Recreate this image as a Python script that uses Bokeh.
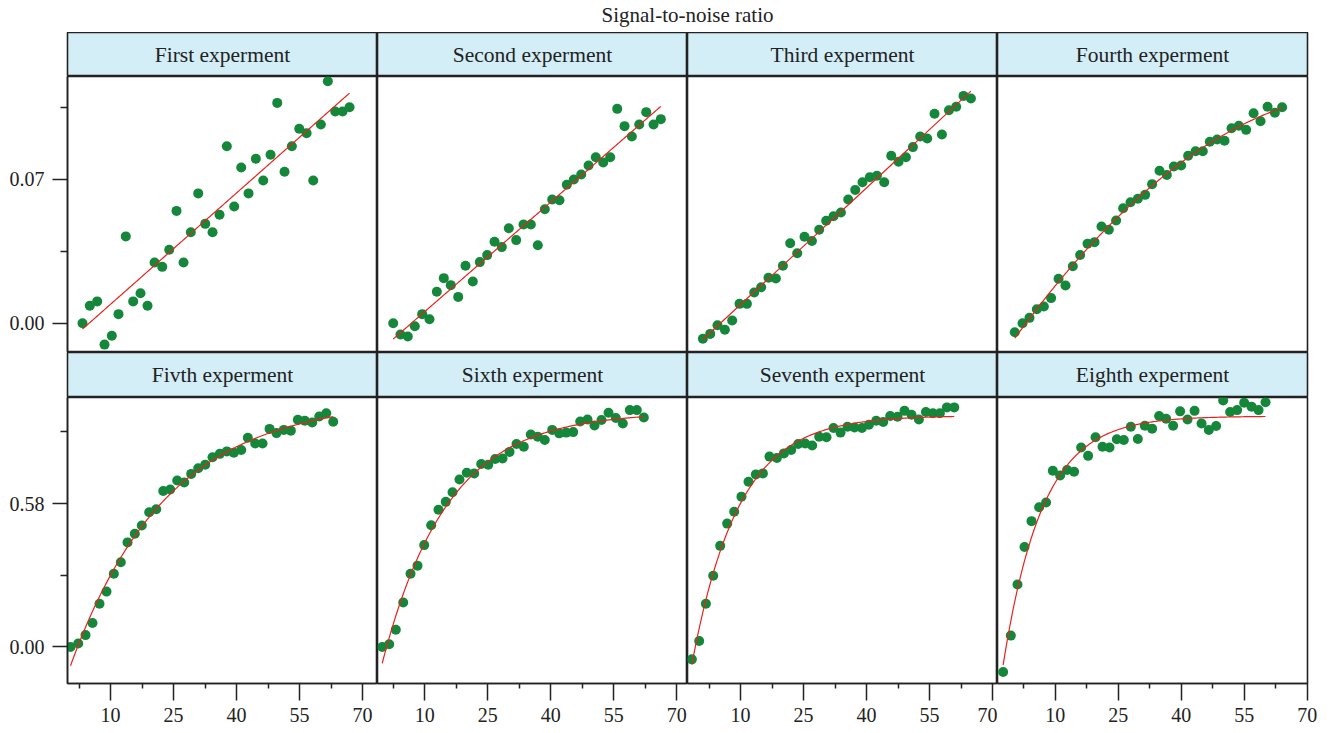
import numpy as np
from bokeh.plotting import figure
from bokeh.layouts import gridplot, column
from bokeh.models import FixedTicker, Range1d, Label, PrintfTickFormatter
from bokeh.embed import file_html
from bokeh.resources import INLINE

main_title = "Signal-to-noise ratio"
panel_titles = ["First experment", "Second experment", "Third experment", "Fourth experment",
                "Fivth experment", "Sixth experment", "Seventh experment", "Eighth experment"]

x_ticks = [10, 25, 40, 55, 70]
x_minor = [2.5, 17.5, 32.5, 47.5, 62.5]
y_ticks_top = [0.0, 0.07]
y_minor_top = [0.035, 0.105]
y_ticks_bottom = [0.0, 0.58]
y_minor_bottom = [0.29, 0.87]

x1 = [3.33, 5.07, 6.83, 8.57, 10.31, 11.90, 13.64, 15.40, 17.14, 18.81, 20.48, 22.31, 23.98, 25.71,
      27.38, 29.12, 30.88, 32.55, 34.29, 35.95, 37.69, 39.45, 41.12, 42.86, 44.60, 46.36, 48.10,
      49.69, 51.43, 53.17, 54.93, 56.67, 58.26, 60.07, 61.74, 63.50, 65.24, 66.90]
y1 = [0.0000, 0.0085, 0.0106, -0.0104, -0.0061, 0.0044, 0.0422, 0.0106, 0.0146, 0.0085, 0.0295,
      0.0274, 0.0357, 0.0546, 0.0295, 0.0442, 0.0631, 0.0483, 0.0442, 0.0527, 0.0860, 0.0567,
      0.0757, 0.0631, 0.0799, 0.0694, 0.0819, 0.1071, 0.0736, 0.0860, 0.0945, 0.0924, 0.0694,
      0.0966, 0.1176, 0.1029, 0.1029, 0.1050]

x2 = [2.48, 4.21, 5.95, 7.62, 9.38, 11.12, 12.86, 14.52, 16.19, 17.95, 19.69, 21.43, 23.10, 24.86,
      26.60, 28.33, 30.00, 31.76, 33.50, 35.24, 36.90, 38.57, 40.33, 42.07, 43.81, 45.48, 47.24,
      48.98, 50.71, 52.48, 54.14, 55.81, 57.55, 59.29, 61.05, 62.71, 64.45, 66.19]
y2 = [0.0000, -0.0055, -0.0065, -0.0015, 0.0044, 0.0019, 0.0153, 0.0219, 0.0185, 0.0128, 0.0279,
      0.0203, 0.0297, 0.0331, 0.0396, 0.0370, 0.0462, 0.0404, 0.0480, 0.0480, 0.0379, 0.0554,
      0.0601, 0.0598, 0.0673, 0.0699, 0.0723, 0.0767, 0.0807, 0.0781, 0.0807, 0.1042, 0.0958,
      0.0908, 0.0966, 0.1026, 0.0966, 0.0992]

x3 = [1.02, 2.76, 4.50, 6.26, 8.00, 9.74, 11.50, 13.24, 14.90, 16.64, 18.40, 20.07, 21.81, 23.48,
      25.21, 26.98, 28.71, 30.38, 32.12, 33.88, 35.62, 37.29, 39.02, 40.79, 42.45, 44.19, 45.86,
      47.60, 49.36, 51.02, 52.76, 54.43, 56.17, 57.93, 59.60, 61.33, 63.07, 64.83]
y3 = [-0.0076, -0.0052, -0.0010, -0.0032, 0.0013, 0.0094, 0.0094, 0.0149, 0.0175, 0.0221, 0.0217,
      0.0279, 0.0389, 0.0340, 0.0420, 0.0400, 0.0454, 0.0498, 0.0520, 0.0538, 0.0601, 0.0648,
      0.0685, 0.0710, 0.0717, 0.0685, 0.0814, 0.0785, 0.0807, 0.0856, 0.0908, 0.0898, 0.1018,
      0.0917, 0.1035, 0.1052, 0.1105, 0.1092]

x4 = [0.36, 2.20, 3.86, 5.60, 7.27, 9.00, 10.77, 12.43, 14.17, 15.91, 17.67, 19.34, 21.00, 22.74,
      24.48, 26.15, 27.91, 29.65, 31.39, 33.05, 34.81, 36.55, 38.22, 39.96, 41.62, 43.39, 45.12,
      46.79, 48.53, 50.29, 51.96, 53.70, 55.43, 57.20, 58.86, 60.53, 62.27, 64.00]
y4 = [-0.0044, 0.0000, 0.0026, 0.0068, 0.0081, 0.0122, 0.0216, 0.0183, 0.0277, 0.0332, 0.0386,
      0.0394, 0.0470, 0.0454, 0.0499, 0.0559, 0.0588, 0.0605, 0.0624, 0.0676, 0.0741, 0.0721,
      0.0762, 0.0767, 0.0814, 0.0836, 0.0836, 0.0882, 0.0893, 0.0887, 0.0948, 0.0960, 0.0940,
      0.1021, 0.0982, 0.1052, 0.1023, 0.1050]

x5 = [0.48, 2.31, 4.05, 5.71, 7.38, 9.05, 10.79, 12.45, 14.05, 15.79, 17.45, 19.21, 20.88, 22.55,
      24.21, 25.88, 27.55, 29.21, 30.88, 32.55, 34.29, 36.02, 37.69, 39.36, 41.12, 42.69, 44.45,
      46.19, 47.86, 49.52, 51.26, 52.93, 54.60, 56.26, 58.02, 59.69, 61.36, 63.02]
y5 = [0.000, 0.014, 0.048, 0.097, 0.175, 0.224, 0.296, 0.343, 0.423, 0.458, 0.491, 0.545, 0.557,
      0.631, 0.637, 0.673, 0.665, 0.700, 0.723, 0.737, 0.767, 0.781, 0.791, 0.786, 0.797, 0.846,
      0.823, 0.823, 0.882, 0.865, 0.878, 0.875, 0.919, 0.915, 0.908, 0.932, 0.945, 0.911]

x6 = [-0.14, 1.52, 3.10, 4.86, 6.60, 8.26, 9.86, 11.52, 13.26, 15.00, 16.60, 18.26, 20.00, 21.76,
      23.43, 25.10, 26.76, 28.50, 30.17, 31.83, 33.57, 35.24, 36.90, 38.57, 40.33, 42.00, 43.67,
      45.33, 47.00, 48.74, 50.40, 52.07, 53.74, 55.48, 57.14, 58.81, 60.48, 62.14]
y6 = [0.000, 0.011, 0.070, 0.180, 0.296, 0.329, 0.412, 0.492, 0.555, 0.587, 0.626, 0.677, 0.705,
      0.702, 0.740, 0.737, 0.760, 0.762, 0.789, 0.821, 0.810, 0.859, 0.850, 0.837, 0.878, 0.864,
      0.867, 0.869, 0.912, 0.920, 0.896, 0.918, 0.947, 0.926, 0.904, 0.958, 0.958, 0.928]

x7 = [-1.60, 0.14, 1.74, 3.48, 5.14, 6.81, 8.48, 10.21, 11.88, 13.64, 15.31, 16.88, 18.64, 20.31,
      22.05, 23.71, 25.38, 27.05, 28.71, 30.45, 32.12, 33.79, 35.45, 37.12, 38.88, 40.55, 42.29,
      43.95, 45.62, 47.36, 49.02, 50.69, 52.45, 54.12, 55.79, 57.45, 59.12, 60.86]
y7 = [-0.050, 0.024, 0.175, 0.288, 0.409, 0.499, 0.547, 0.608, 0.668, 0.698, 0.702, 0.770, 0.764,
      0.783, 0.797, 0.821, 0.823, 0.815, 0.850, 0.848, 0.886, 0.867, 0.891, 0.888, 0.886, 0.899,
      0.915, 0.910, 0.934, 0.931, 0.955, 0.939, 0.920, 0.950, 0.945, 0.945, 0.969, 0.969]

x8 = [-2.42, -0.59, 1.00, 2.67, 4.34, 6.15, 7.81, 9.41, 11.15, 12.81, 14.48, 16.15, 17.81, 19.58,
      21.24, 22.91, 24.65, 26.31, 27.98, 29.65, 31.31, 33.05, 34.72, 36.39, 38.05, 39.72, 41.48,
      43.15, 44.81, 46.55, 48.29, 49.96, 51.62, 53.29, 54.96, 56.72, 58.39, 60.05]
y8 = [-0.101, 0.046, 0.253, 0.404, 0.509, 0.565, 0.584, 0.713, 0.694, 0.716, 0.709, 0.807, 0.773,
      0.848, 0.810, 0.807, 0.840, 0.837, 0.891, 0.841, 0.895, 0.883, 0.934, 0.923, 0.895, 0.953,
      0.920, 0.955, 0.904, 0.878, 0.894, 0.997, 0.950, 0.958, 0.988, 0.972, 0.958, 0.990]

fit_kinds = ["linear", "linear", "linear", "quadratic", "exp", "exp", "exp", "exp"]
xs_all = [x1, x2, x3, x4, x5, x6, x7, x8]
ys_all = [y1, y2, y3, y4, y5, y6, y7, y8]

# ---- style / layout ----
FONT = "Liberation Serif"
GREEN = "#15873a"
RED = "#e8231d"
DARK = "#222222"
STRIP = "#d4eef7"
col_x_start = [-0.24, -1.26, -2.64, -3.76]
x_span = 73.8
top_y = (-0.01424, 0.11993)
bot_y = (-0.1477, 1.009)
FRAME_W = 310
LEFT = 67
RIGHT = 14
BOTTOM = 49


def fit_curve(x, y, kind):
    x = np.asarray(x, float)
    y = np.asarray(y, float)
    xx = np.linspace(x.min(), x.max(), 200)
    if kind == "linear":
        c = np.polyfit(x, y, 1)
        return xx, np.polyval(c, xx)
    if kind == "quadratic":
        c = np.polyfit(x, y, 2)
        return xx, np.polyval(c, xx)
    best = None
    for k in np.linspace(0.01, 0.4, 781):
        A = np.column_stack([np.ones_like(x), np.exp(-k * x)])
        coef, *_ = np.linalg.lstsq(A, y, rcond=None)
        err = np.sum((A @ coef - y) ** 2)
        if best is None or err < best[0]:
            best = (err, k, coef)
    _, k, coef = best
    return xx, coef[0] + coef[1] * np.exp(-k * xx)


def make_strip(text, col, height):
    w = FRAME_W + (LEFT if col == 0 else 0) + (RIGHT if col == 3 else 0)
    s = figure(width=w, height=height, x_range=Range1d(0, 1), y_range=Range1d(0, 1),
               toolbar_location=None, output_backend="svg",
               x_axis_location=None, y_axis_location=None,
               min_border_left=LEFT if col == 0 else 0, min_border_right=RIGHT if col == 3 else 0,
               min_border_top=0, min_border_bottom=0)
    s.grid.visible = False
    s.background_fill_color = STRIP
    s.border_fill_color = "white"
    s.outline_line_color = DARK
    s.outline_line_width = 1.6
    s.add_layout(Label(x=0.5, y=0.5, text=text, text_align="center", text_baseline="middle",
                       text_font=FONT, text_font_size="21.5px", text_color=DARK))
    return s


def style_axis(ax):
    ax.axis_line_color = DARK
    ax.axis_line_width = 1.5
    ax.major_tick_line_color = DARK
    ax.major_tick_line_width = 1.5
    ax.minor_tick_line_color = DARK
    ax.minor_tick_line_width = 1.5
    ax.major_tick_in = 0
    ax.minor_tick_in = 0
    ax.major_label_text_font = FONT
    ax.major_label_text_font_size = "20px"
    ax.major_label_text_color = DARK
    ax.major_label_standoff = 8


def make_panel(i, col, bottom):
    h = (286 + BOTTOM) if bottom else 276
    w = FRAME_W + (LEFT if col == 0 else 0) + (RIGHT if col == 3 else 0)
    yr = bot_y if bottom else top_y
    p = figure(width=w, height=h,
               x_range=Range1d(col_x_start[col], col_x_start[col] + x_span),
               y_range=Range1d(*yr), toolbar_location=None, output_backend="svg",
               x_axis_location="below" if bottom else None,
               y_axis_location="left" if col == 0 else None,
               min_border_left=LEFT if col == 0 else 0, min_border_right=RIGHT if col == 3 else 0,
               min_border_top=0, min_border_bottom=BOTTOM if bottom else 0)
    p.grid.visible = False
    p.outline_line_color = DARK
    p.outline_line_width = 1.6
    p.border_fill_color = "white"
    if bottom:
        ax = p.xaxis[0]
        ax.ticker = FixedTicker(ticks=x_ticks, minor_ticks=x_minor)
        style_axis(ax)
        ax.major_tick_out = 17
        ax.minor_tick_out = 5
        ax.major_label_standoff = 7
    if col == 0:
        ay = p.yaxis[0]
        if bottom:
            ay.ticker = FixedTicker(ticks=y_ticks_bottom, minor_ticks=y_minor_bottom)
        else:
            ay.ticker = FixedTicker(ticks=y_ticks_top, minor_ticks=y_minor_top)
        ay.formatter = PrintfTickFormatter(format="%.2f")
        style_axis(ay)
        ay.major_tick_out = 15
        ay.minor_tick_out = 7
    fx, fy = fit_curve(xs_all[i], ys_all[i], fit_kinds[i])
    p.scatter(xs_all[i], ys_all[i], size=10, fill_color=GREEN, line_color=None)
    p.line(fx, fy, line_color=RED, line_width=1.2)
    return p


rows = []
for r in range(2):
    strips = [make_strip(panel_titles[r * 4 + c], c, 44 if r == 0 else 45) for c in range(4)]
    panels = [make_panel(r * 4 + c, c, r == 1) for c in range(4)]
    rows.append(strips)
    rows.append(panels)

grid = gridplot(rows, toolbar_location=None)

total_w = LEFT + 4 * FRAME_W + RIGHT
t = figure(width=total_w, height=32, x_range=Range1d(0, 1), y_range=Range1d(0, 1),
           toolbar_location=None, output_backend="svg", x_axis_location=None, y_axis_location=None,
           min_border_left=LEFT, min_border_right=RIGHT, min_border_top=0, min_border_bottom=0)
t.grid.visible = False
t.outline_line_color = None
t.add_layout(Label(x=0.5, y=0.55, text=main_title, text_align="center", text_baseline="middle",
                   text_font=FONT, text_font_size="21px", text_color=DARK))

layout = column(t, grid)
open("out.html", "w").write(file_html(layout, INLINE))
